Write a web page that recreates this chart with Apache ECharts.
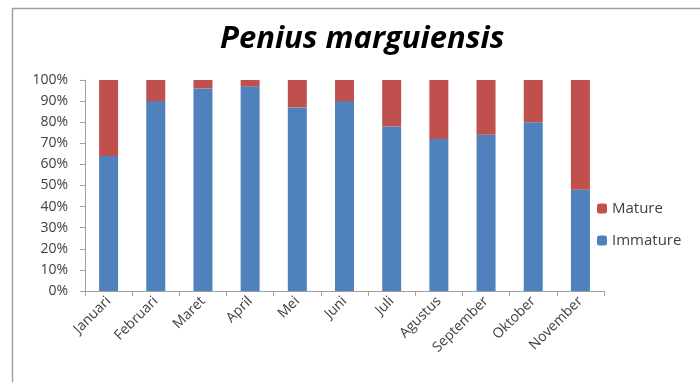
<!DOCTYPE html>
<html>
<head>
<meta charset="utf-8">
<script src="https://cdn.jsdelivr.net/npm/echarts@6/dist/echarts.min.js"></script>
<style>
html,body{margin:0;padding:0;background:#fff;}
#c{width:700px;height:382px;}
</style>
</head>
<body>
<div id="c"></div>
<script>
const categories = ['Januari','Februari','Maret','April','Mei','Juni','Juli','Agustus','September','Oktober','November'];
const immature = [64, 90, 96, 97, 87, 90, 78, 72, 74, 80, 48];
const mature = [36, 10, 4, 3, 13, 10, 22, 28, 26, 20, 52];
const titleText = 'Penius marguiensis';

const chart = echarts.init(document.getElementById('c'), null, {renderer:'canvas'});
const font = '"Open Sans", Lato, sans-serif';
chart.setOption({
  animation: false,
  backgroundColor: '#fff',
  graphic: [{
    type: 'rect', left: 10, top: 6,
    shape: {width: 720, height: 400},
    style: {fill: 'none', stroke: '#a0a0a0', lineWidth: 1.5},
    z: -1
  }],
  title: {
    text: titleText, left: 215, top: 19,
    textStyle: {fontFamily: font, fontSize: 31, fontWeight: 'bold', fontStyle: 'italic', color: '#000'}
  },
  legend: {
    orient: 'vertical', left: 592, top: 196,
    itemWidth: 10, itemHeight: 10, itemGap: 17,
    data: ['Mature','Immature'],
    textStyle: {fontFamily: font, fontSize: 15, color: '#404040'}
  },
  grid: {left: 85, right: 96, top: 80, bottom: 91, containLabel: false},
  xAxis: {
    type: 'category', data: categories,
    axisLine: {lineStyle: {color: '#a0a0a0'}},
    axisTick: {show: true, length: 5, lineStyle: {color: '#a0a0a0'}},
    axisLabel: {rotate: 45, interval: 0, fontFamily: font, fontSize: 14, color: '#404040', margin: 8}
  },
  yAxis: {
    type: 'value', min: 0, max: 100, interval: 10,
    axisLine: {show: true, lineStyle: {color: '#a0a0a0'}},
    axisTick: {show: true, length: 5, lineStyle: {color: '#a0a0a0'}},
    splitLine: {show: false},
    axisLabel: {formatter: '{value}%', fontFamily: font, fontSize: 14, color: '#404040', margin: 17}
  },
  series: [
    {name: 'Immature', type: 'bar', stack: 's', data: immature, barWidth: 19, itemStyle: {color: '#4F81BD'}},
    {name: 'Mature', type: 'bar', stack: 's', data: mature, barWidth: 19, itemStyle: {color: '#C0504D'}}
  ]
});
</script>
</body>
</html>
